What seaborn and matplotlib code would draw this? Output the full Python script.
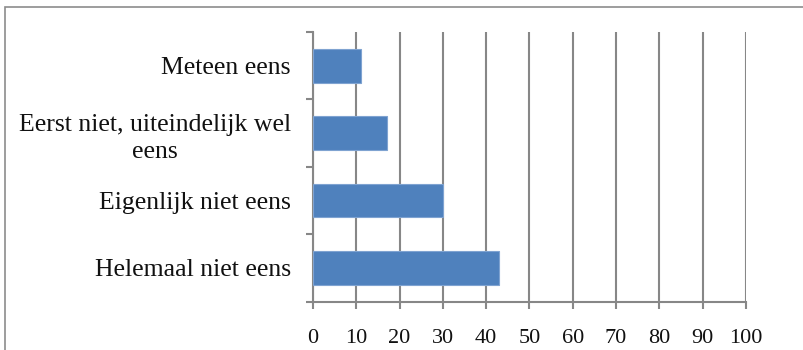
import matplotlib
matplotlib.use("Agg")
import matplotlib.pyplot as plt
import seaborn as sns
import pandas as pd
from matplotlib.patches import Rectangle

categories = ["Meteen eens", "Eerst niet, uiteindelijk wel\neens",
              "Eigenlijk niet eens", "Helemaal niet eens"]
values = [11, 17, 30, 43]
x_ticks = [0, 10, 20, 30, 40, 50, 60, 70, 80, 90, 100]

sns.set_theme(style="white")
plt.rcParams["font.family"] = ["Liberation Serif", "DejaVu Serif"]

df = pd.DataFrame({"categorie": categories, "waarde": values})

fig = plt.figure(figsize=(8.04, 3.5), dpi=100)
ax = fig.add_axes([313 / 804, 48.5 / 350, 433 / 804, 269.5 / 350])

sns.barplot(data=df, y="categorie", x="waarde", orient="h", ax=ax,
            color="#4F81BD", saturation=1, width=0.5,
            edgecolor="#7FA3D1", linewidth=0.8, zorder=3)

ax.set_xlim(0, 100)
ax.set_ylim(3.5, -0.5)
ax.set_xticks(x_ticks)
ax.set_xticklabels([str(t) for t in x_ticks])
ax.set_xlabel("")
ax.set_ylabel("")

ax.xaxis.grid(True, color="#878787", linewidth=1.5, zorder=0)
ax.yaxis.grid(False)
ax.set_axisbelow(True)

for side in ["top", "right"]:
    ax.spines[side].set_visible(False)
for side in ["left", "bottom"]:
    ax.spines[side].set_visible(True)
    ax.spines[side].set_color("#878787")
    ax.spines[side].set_linewidth(1.5)

# category separators as ticks on the left axis
ax.set_yticks([0, 1, 2, 3])
ax.set_yticks([-0.5, 0.5, 1.5, 2.5, 3.5], minor=True)
ax.tick_params(axis="y", which="major", length=0, pad=16, labelsize=18.5)
ax.tick_params(axis="y", which="minor", left=True, length=5, width=1.5,
               color="#878787")
ax.tick_params(axis="x", bottom=True, length=5, width=1.5, color="#878787",
               pad=15, labelsize=16)
for lbl in ax.get_yticklabels():
    lbl.set_multialignment("center")
    lbl.set_linespacing(1.3)
    lbl.set_color("#111111")
for lbl in ax.get_xticklabels():
    lbl.set_color("#111111")

# outer chart frame
fig.patches.append(Rectangle((5 / 804, -0.1), 1.2, (350 - 7) / 350 + 0.1,
                             transform=fig.transFigure, fill=False,
                             edgecolor="#8c8c8c", linewidth=1.2))

fig.savefig("out.png", dpi=100)
